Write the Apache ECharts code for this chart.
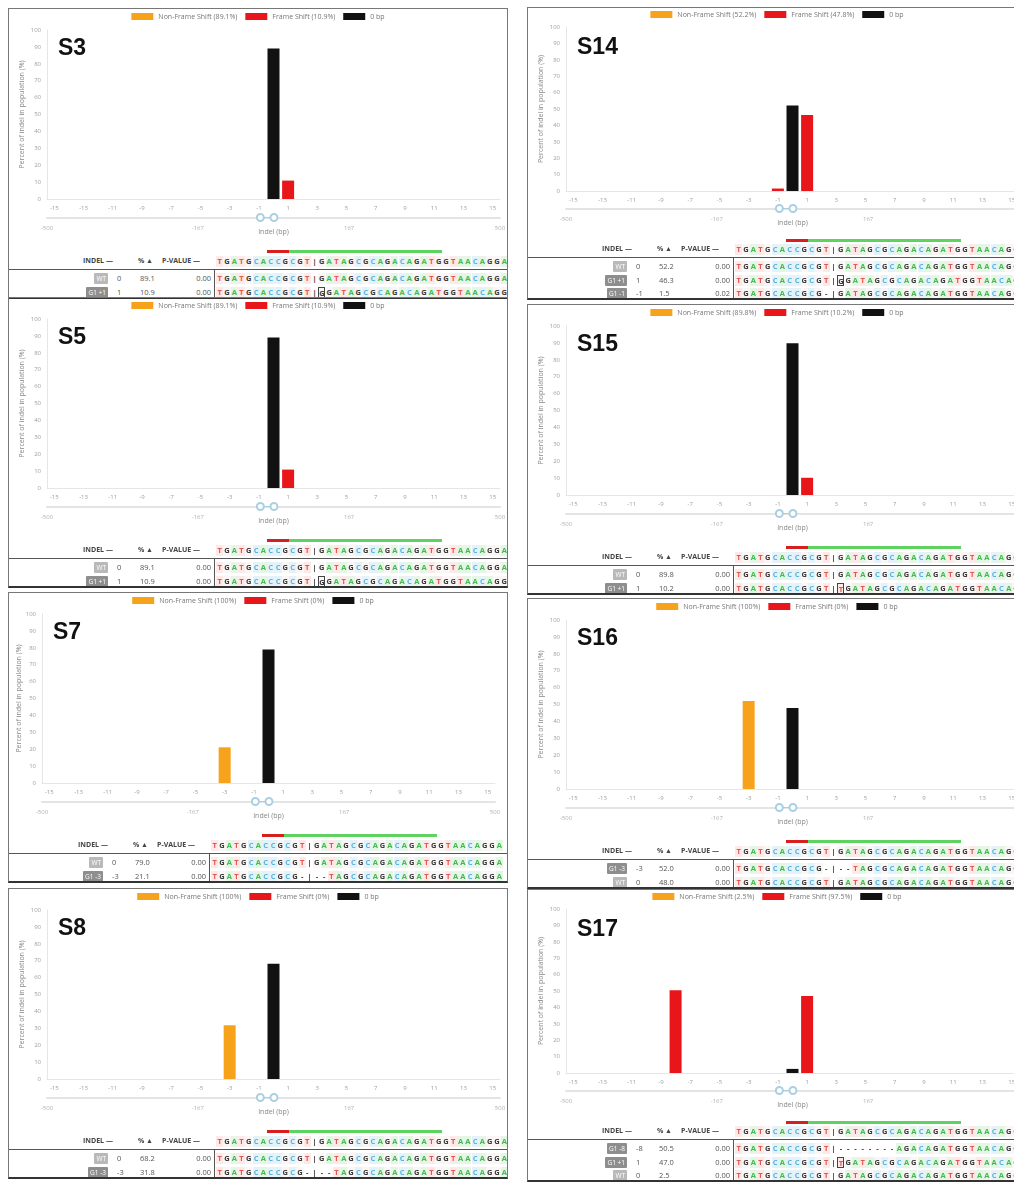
<!DOCTYPE html>
<html>
<head>
<meta charset="utf-8">
<script src="https://cdn.jsdelivr.net/npm/echarts@6/dist/echarts.min.js"></script>
<style>
  body { margin: 0; width: 1014px; height: 1182px; overflow: hidden; background: #fff; position: relative; font-family: "Open Sans", sans-serif; }
  .panel { position: absolute; width: 500px; }
  .frame { position: absolute; width: 500px; border: 1px solid #777; border-bottom: 2px solid #333; box-sizing: border-box; pointer-events: none; }
  .chart { position: absolute; left: 0; top: 0; width: 500px; height: 236px; }
  .hdr { position: absolute; font-size: 7px; font-weight: 700; color: #444; line-height: 10px; white-space: nowrap; }
  .cell { position: absolute; font-size: 7.5px; color: #555; line-height: 11px; white-space: nowrap; }
  .badge { position: absolute; font-size: 6.5px; color: #fff; line-height: 11px; height: 11px; padding: 0 2px; border-radius: 1px; text-align: center; white-space: nowrap; }
  .seq { position: absolute; left: 208px; height: 11px; }
  .nt { position: absolute; top: 0; width: 7.3px; height: 11px; line-height: 11px; font-size: 7.5px; font-weight: 700; text-align: center; box-sizing: border-box; }
  .hline { position: absolute; left: 0; width: 500px; height: 1px; background: #555; }
  .vline { position: absolute; left: 206px; width: 1px; background: #555; }
  .guide { position: absolute; height: 3px; }
</style>
</head>
<body>
<script>
const panelNames = ['S3', 'S5', 'S7', 'S8', 'S14', 'S15', 'S16', 'S17'];
const panelLeft = [8, 8, 8, 8, 527, 527, 527, 527];
const panelTop = [8, 297, 592, 888, 7, 304, 598, 889];
const contentShift = [0, 0, -5, 0, 0, 0, 0, 0];

const indelCats = [-15, -14, -13, -12, -11, -10, -9, -8, -7, -6, -5, -4, -3, -2, -1, 0,
  1, 2, 3, 4, 5, 6, 7, 8, 9, 10, 11, 12, 13, 14, 15];
const sliderTicks = [-500, -167, 167, 500];
const sliderRange = [-29, 1];

const nonFrameShiftPct = ['89.1%', '89.1%', '100%', '100%', '52.2%', '89.8%', '100%', '2.5%'];
const frameShiftPct = ['10.9%', '10.9%', '0%', '0%', '47.8%', '10.2%', '0%', '97.5%'];

// [indel, percent] per panel
const nonFrameShiftBars = [[], [], [[-3, 21.1]], [[-3, 31.8]], [], [], [[-3, 52.0]], []];
const frameShiftBars = [[[1, 10.9]], [[1, 10.9]], [], [], [[-1, 1.5], [1, 46.3]], [[1, 10.2]], [], [[-8, 50.5], [1, 47.0]]];
const zeroBpBars = [[[0, 89.1]], [[0, 89.1]], [[0, 79.0]], [[0, 68.2]], [[0, 52.2]], [[0, 89.8]], [[0, 48.0]], [[0, 2.5]]];

const refSeq = 'TGATGCACCGCGT|GATAGCGCAGACAGATGGTAACAGGA';
const seqIns1G = 'TGATGCACCGCGT|GGATAGCGCAGACAGATGGTAACAGG';
const seqIns1T = 'TGATGCACCGCGT|TGATAGCGCAGACAGATGGTAACAGG';
const seqDel1 = 'TGATGCACCGCG-|GATAGCGCAGACAGATGGTAACAGGA';
const seqDel3 = 'TGATGCACCGCG-|--TAGCGCAGACAGATGGTAACAGGA';
const seqDel8 = 'TGATGCACCGCGT|--------AGACAGATGGTAACAGGA';
const pamCells = [7, 10];
const guideCells = [10, 31];

// badge, indel, %, p-value, sequence, boxed (inserted) base index
const tableRows = [
  [['WT', '0', '89.1', '0.00', refSeq, -1], ['G1 +1', '1', '10.9', '0.00', seqIns1G, 14]],
  [['WT', '0', '89.1', '0.00', refSeq, -1], ['G1 +1', '1', '10.9', '0.00', seqIns1G, 14]],
  [['WT', '0', '79.0', '0.00', refSeq, -1], ['G1 -3', '-3', '21.1', '0.00', seqDel3, -1]],
  [['WT', '0', '68.2', '0.00', refSeq, -1], ['G1 -3', '-3', '31.8', '0.00', seqDel3, -1]],
  [['WT', '0', '52.2', '0.00', refSeq, -1], ['G1 +1', '1', '46.3', '0.00', seqIns1G, 14], ['G1 -1', '-1', '1.5', '0.02', seqDel1, -1]],
  [['WT', '0', '89.8', '0.00', refSeq, -1], ['G1 +1', '1', '10.2', '0.00', seqIns1T, 14]],
  [['G1 -3', '-3', '52.0', '0.00', seqDel3, -1], ['WT', '0', '48.0', '0.00', refSeq, -1]],
  [['G1 -8', '-8', '50.5', '0.00', seqDel8, -1], ['G1 +1', '1', '47.0', '0.00', seqIns1T, 14], ['WT', '0', '2.5', '0.00', refSeq, -1]]
];

const layout2 = { legend: 5, gridTop: 22, gridH: 169, slider: 209, bar: 242, header: 253, rows: [270, 284], bottom: 291 };
const layout3 = { legend: 4, gridTop: 20, gridH: 164, slider: 201, bar: 232, header: 242, rows: [259, 273, 286], bottom: 293 };
const cw = 7.3;

function ntColors(ch) {
  if (ch === 'T') return ['#e0574e', '#fde9e8'];
  if (ch === 'A') return ['#43b84f', '#e6f6e6'];
  if (ch === 'C') return ['#5db2d9', '#e4f3fa'];
  if (ch === 'G') return ['#3a3a3a', '#faf6f6'];
  return ['#333', 'transparent'];
}

function seqHtml(seq, boxed) {
  let h = '';
  for (let k = 0; k < seq.length; k++) {
    const [c, bg] = ntColors(seq[k]);
    const box = k === boxed ? 'border:1px solid #444;' : '';
    h += `<span class="nt" style="left:${(k * cw).toFixed(1)}px;color:${c};background:${bg};${box}">${seq[k]}</span>`;
  }
  return h;
}

function chartOption(i, lay) {
  const nfsName = 'Non-Frame Shift (' + nonFrameShiftPct[i] + ')';
  const fsName = 'Frame Shift (' + frameShiftPct[i] + ')';
  const cat = d => [String(d[0]), d[1]];
  return {
    animation: false,
    textStyle: { fontFamily: 'Open Sans' },
    title: {
      text: panelNames[i], left: 50, top: 29, padding: 0,
      textStyle: { fontSize: 23, fontWeight: 'bold', fontFamily: 'Liberation Sans', color: '#111' }
    },
    legend: {
      top: lay.legend, left: 'center', icon: 'rect', padding: 0,
      itemWidth: 22, itemHeight: 7, itemGap: 8,
      textStyle: { fontSize: 7, color: '#777' },
      data: [nfsName, fsName, '0 bp']
    },
    grid: [
      { left: 39, right: 8, top: lay.gridTop, height: lay.gridH, outerBoundsMode: 'none' },
      { left: 39, right: 8, top: lay.slider, height: 1, outerBoundsMode: 'none' }
    ],
    xAxis: [
      {
        type: 'category', gridIndex: 0, data: indelCats.map(String),
        axisLine: { lineStyle: { color: '#e6e6e6' } }, axisTick: { show: false },
        axisLabel: { interval: 1, fontSize: 6, color: '#a0a0a0', margin: 6 }
      },
      {
        type: 'value', gridIndex: 1, min: -500, max: 500,
        axisLine: { lineStyle: { color: '#e4e4e4', width: 2 } }, axisTick: { show: false },
        splitLine: { show: false },
        axisLabel: { customValues: sliderTicks, fontSize: 6, color: '#b0b0b0', margin: 7 },
        name: 'Indel (bp)', nameLocation: 'middle', nameGap: 10, nameMoveOverlap: false,
        nameTextStyle: { fontSize: 7, color: '#888' }
      }
    ],
    yAxis: [
      {
        type: 'value', gridIndex: 0, min: 0, max: 100, interval: 10,
        axisLine: { show: true, lineStyle: { color: '#e6e6e6' } }, axisTick: { show: false },
        splitLine: { show: false },
        axisLabel: { fontSize: 6, color: '#a0a0a0', margin: 6 },
        name: 'Percent of indel in population (%)', nameLocation: 'middle',
        nameGap: contentShift[i] ? 20 : 22, nameMoveOverlap: false,
        nameTextStyle: { fontSize: 7, color: '#888' }
      },
      { type: 'value', gridIndex: 1, min: -1, max: 1, show: false }
    ],
    series: [
      { name: nfsName, type: 'bar', stack: 'all', barWidth: 12, itemStyle: { color: '#f7a21b' }, data: nonFrameShiftBars[i].map(cat) },
      { name: fsName, type: 'bar', stack: 'all', barWidth: 12, itemStyle: { color: '#e8161b' }, data: frameShiftBars[i].map(cat) },
      { name: '0 bp', type: 'bar', stack: 'all', barWidth: 12, itemStyle: { color: '#111' }, data: zeroBpBars[i].map(cat) },
      {
        name: 'range', type: 'line', xAxisIndex: 1, yAxisIndex: 1, silent: true,
        symbol: 'emptyCircle', symbolSize: 7,
        lineStyle: { color: '#a9d0e2', width: 1 }, itemStyle: { color: '#a9d0e2', borderWidth: 1.2 },
        data: sliderRange.map(v => [v, 0])
      }
    ]
  };
}

panelNames.forEach((name, i) => {
  const rows = tableRows[i];
  const lay = rows.length === 3 ? layout3 : layout2;
  const panel = document.createElement('div');
  panel.className = 'panel';
  panel.style.left = (panelLeft[i] + contentShift[i]) + 'px';
  panel.style.top = panelTop[i] + 'px';
  panel.style.height = lay.bottom + 'px';

  let h = '<div class="chart"></div>';
  // guide / PAM bar
  h += `<div class="guide" style="top:${lay.bar}px;left:${208 + pamCells[0] * cw}px;width:${(pamCells[1] - pamCells[0]) * cw}px;background:#d71f1f"></div>`;
  h += `<div class="guide" style="top:${lay.bar}px;left:${208 + guideCells[0] * cw}px;width:${(guideCells[1] - guideCells[0]) * cw}px;background:#5fd35f"></div>`;
  // header
  const hy = lay.header - 5;
  h += `<div class="hdr" style="top:${hy}px;left:75px">INDEL —</div>`;
  h += `<div class="hdr" style="top:${hy}px;left:130px">% ▲</div>`;
  h += `<div class="hdr" style="top:${hy}px;left:154px">P-VALUE —</div>`;
  h += `<div class="seq" style="top:${lay.header - 5.5}px">${seqHtml(refSeq, -1)}</div>`;
  h += `<div class="hline" style="top:${lay.header + 8}px;left:${-contentShift[i]}px"></div>`;
  h += `<div class="vline" style="top:${lay.header + 8}px;height:${lay.bottom - lay.header - 8}px"></div>`;
  rows.forEach((r, k) => {
    const y = lay.rows[k] - 5.5;
    const bg = r[0] === 'WT' ? '#b9b9b9' : '#8e8e8e';
    h += `<div class="badge" style="top:${y}px;right:400px;background:${bg}">${r[0]}</div>`;
    h += `<div class="cell" style="top:${y}px;left:109px">${r[1]}</div>`;
    h += `<div class="cell" style="top:${y}px;left:132px">${r[2]}</div>`;
    h += `<div class="cell" style="top:${y}px;right:297px">${r[3]}</div>`;
    h += `<div class="seq" style="top:${y}px">${seqHtml(r[4], r[5])}</div>`;
  });
  panel.innerHTML = h;
  document.body.appendChild(panel);

  const frame = document.createElement('div');
  frame.className = 'frame';
  frame.style.left = panelLeft[i] + 'px';
  frame.style.top = panelTop[i] + 'px';
  frame.style.height = lay.bottom + 'px';
  document.body.appendChild(frame);

  const chart = echarts.init(panel.querySelector('.chart'));
  chart.setOption(chartOption(i, lay));
});
</script>
</body>
</html>
